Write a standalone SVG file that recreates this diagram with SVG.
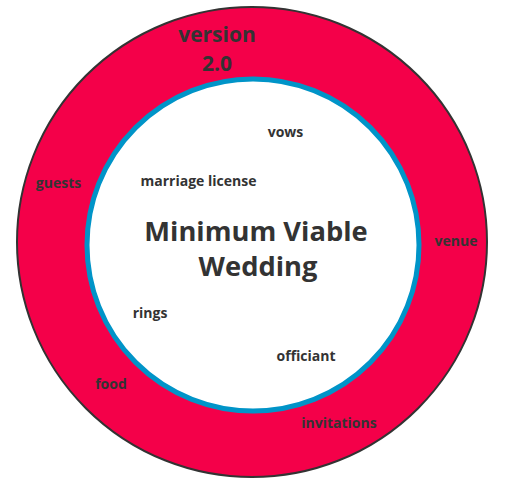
<svg xmlns="http://www.w3.org/2000/svg" width="507" height="485" viewBox="0 0 507 485">
<style>
text{font-family:"Open Sans","Noto Sans","Liberation Sans",sans-serif;font-weight:bold;fill:#333;text-anchor:middle}
.s{font-size:14px}
.m{font-size:21px}
.l{font-size:27.3px}
</style>
<rect width="507" height="485" fill="#fff"/>
<g id="outer-ring">
<circle cx="252" cy="242" r="235" fill="#f40049" stroke="#333" stroke-width="2"/>
</g>
<g id="inner-circle">
<circle cx="253" cy="245" r="166" fill="#fff" stroke="#0094c8" stroke-width="5"/>
</g>
<g id="connectors"></g>
<g id="labels-outer">
<text class="m" x="217" y="42">version</text>
<text class="m" x="217" y="71">2.0</text>
<text class="s" x="58.5" y="188">guests</text>
<text class="s" x="456" y="246">venue</text>
<text class="s" x="111" y="389">food</text>
<text class="s" x="339" y="428">invitations</text>
</g>
<g id="labels-inner">
<text class="s" x="285.5" y="137">vows</text>
<text class="s" x="198.5" y="186">marriage license</text>
<text class="l" x="256" y="241">Minimum Viable</text>
<text class="l" x="258" y="276">Wedding</text>
<text class="s" x="150" y="318">rings</text>
<text class="s" x="306" y="361">officiant</text>
</g>
</svg>
